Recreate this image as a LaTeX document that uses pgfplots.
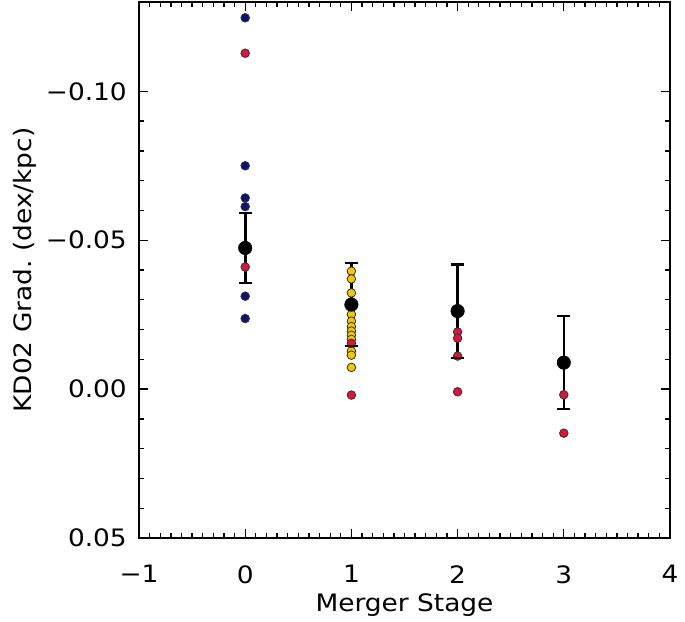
\documentclass[border=0pt]{standalone}
\usepackage{fontspec}
\setmainfont[FakeStretch=1.1]{DejaVu Sans}
\usepackage{pgfplots}
\pgfplotsset{compat=1.18}
\definecolor{navyb}{RGB}{10,20,120}
\definecolor{crim}{RGB}{220,20,60}
\definecolor{goldy}{RGB}{240,200,0}
\definecolor{edgeg}{RGB}{50,50,50}
\begin{document}
\begin{tikzpicture}
\path[use as bounding box] (0,0) rectangle (685pt,621pt);
\begin{axis}[
  at={(139pt,83pt)}, anchor=south west,
  scale only axis, width=531pt, height=536pt,
  xmin=-1, xmax=4, ymin=-0.13, ymax=0.05, y dir=reverse,
  xtick={-1,0,1,2,3,4}, xticklabels={−1,0,1,2,3,4},
  ytick={-0.10,-0.05,0,0.05}, yticklabels={−0.10,−0.05,0.00,0.05},
  minor x tick num=9, minor y tick num=4,
  tick align=inside, major tick length=9pt, minor tick length=5pt,
  every tick/.style={black, line width=1.3pt},
  axis line style={line width=1.6pt},
  tick label style={font=\fontsize{24}{28}\selectfont, inner sep=0pt},
  xticklabel style={yshift=-27pt},
  yticklabel style={xshift=-12pt},
  label style={font=\fontsize{24}{28}\selectfont},
  xlabel={Merger Stage}, ylabel={KD02 Grad.\ (dex/kpc)},
  xlabel style={at={(axis description cs:0.5,-0.125)}, anchor=center},
  ylabel style={at={(axis description cs:-0.2147,0.5)}, anchor=center},
  clip=false,
]
% blue points (stage 0)
\addplot[only marks, mark=*, mark size=4.3pt, mark options={fill=navyb, draw=edgeg, line width=0.8pt}]
  coordinates {(0,-0.1247) (0,-0.0750) (0,-0.0642) (0,-0.0613) (0,-0.0312) (0,-0.0237)};
% yellow points (stage 1)
\addplot[only marks, mark=*, mark size=4.3pt, mark options={fill=goldy, draw=edgeg, line width=0.8pt}]
  coordinates {(1,-0.0396) (1,-0.0370) (1,-0.0323) (1,-0.0290) (1,-0.0251) (1,-0.0228) (1,-0.0210)
               (1,-0.0195) (1,-0.0181) (1,-0.0167) (1,-0.0128) (1,-0.0114) (1,-0.0073)};
% red points
\addplot[only marks, mark=*, mark size=4.3pt, mark options={fill=crim, draw=edgeg, line width=0.8pt}]
  coordinates {(0,-0.1128) (0,-0.0410) (1,-0.0154) (1,0.0020)
               (2,-0.0192) (2,-0.0171) (2,-0.0111) (2,0.0009)
               (3,0.0019) (3,0.0148)};
% error bars (mean +- error): vertical lines
\addplot[black, line width=2.6pt, forget plot] coordinates {(0,-0.0591) (0,-0.0357)};
\addplot[black, line width=2.6pt, forget plot] coordinates {(1,-0.0423) (1,-0.0145)};
\addplot[black, line width=2.6pt, forget plot] coordinates {(2,-0.0419) (2,-0.0105)};
\addplot[black, line width=2.6pt, forget plot] coordinates {(3,-0.0245) (3,0.0067)};
% caps
\addplot[only marks, mark=-, mark size=6.5pt, black, mark options={line width=2.6pt}]
  coordinates {(0,-0.0591) (0,-0.0357) (1,-0.0423) (1,-0.0145)
               (2,-0.0419) (2,-0.0105) (3,-0.0245) (3,0.0067)};
% means
\addplot[only marks, mark=*, mark size=6.8pt, black]
  coordinates {(0,-0.0474) (1,-0.0284) (2,-0.0262) (3,-0.0089)};
\end{axis}
\end{tikzpicture}
\end{document}
